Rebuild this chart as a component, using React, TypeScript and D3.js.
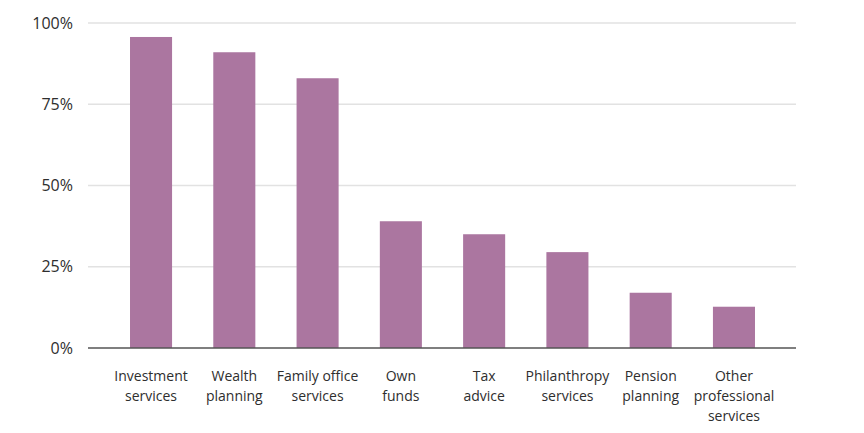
import React from "react";
import * as d3 from "d3";

const categories: string[][] = [
  ["Investment", "services"],
  ["Wealth", "planning"],
  ["Family office", "services"],
  ["Own", "funds"],
  ["Tax", "advice"],
  ["Philanthropy", "services"],
  ["Pension", "planning"],
  ["Other", "professional", "services"],
];
const values: number[] = [95.7, 91, 83, 39, 35, 29.5, 17, 12.7];
const yTicks: number[] = [0, 25, 50, 75, 100];

const W = 864;
const H = 433;

export default function App() {
  const x = d3
    .scaleBand<number>()
    .domain(d3.range(categories.length))
    .range([109.4, 775.6])
    .paddingInner(0.495)
    .paddingOuter(0.2475);
  const y = d3.scaleLinear().domain([0, 100]).range([348, 23]);
  const font = "'Open Sans', Lato, sans-serif";

  return (
    <svg
      width={W}
      height={H}
      style={{ position: "absolute", left: 0, top: 0, background: "#fff" }}
    >
      {yTicks.map((t) =>
        t === 0 ? null : (
          <line
            key={"g" + t}
            x1={88}
            x2={796}
            y1={y(t)}
            y2={y(t)}
            stroke="#e2e2e2"
            strokeWidth={1.3}
          />
        )
      )}
      {yTicks.map((t) => (
        <text
          key={"t" + t}
          x={73}
          y={y(t)}
          dy="0.35em"
          textAnchor="end"
          fontFamily={font}
          fontSize={16}
          fill="#2e2e2e"
        >
          {t}%
        </text>
      ))}
      {values.map((v, i) => (
        <rect
          key={"b" + i}
          x={x(i)}
          y={y(v)}
          width={x.bandwidth()}
          height={y(0) - y(v)}
          fill="#AB76A0"
        />
      ))}
      <line x1={88} x2={796} y1={y(0)} y2={y(0)} stroke="#555" strokeWidth={1.6} />
      {categories.map((lines, i) => (
        <text
          key={"c" + i}
          x={(x(i) as number) + x.bandwidth() / 2}
          y={376}
          textAnchor="middle"
          fontFamily={font}
          fontSize={14}
          fill="#2e2e2e"
        >
          {lines.map((l, j) => (
            <tspan key={j} x={(x(i) as number) + x.bandwidth() / 2} y={376 + j * 20} dy="0.35em">
              {l}
            </tspan>
          ))}
        </text>
      ))}
    </svg>
  );
}
